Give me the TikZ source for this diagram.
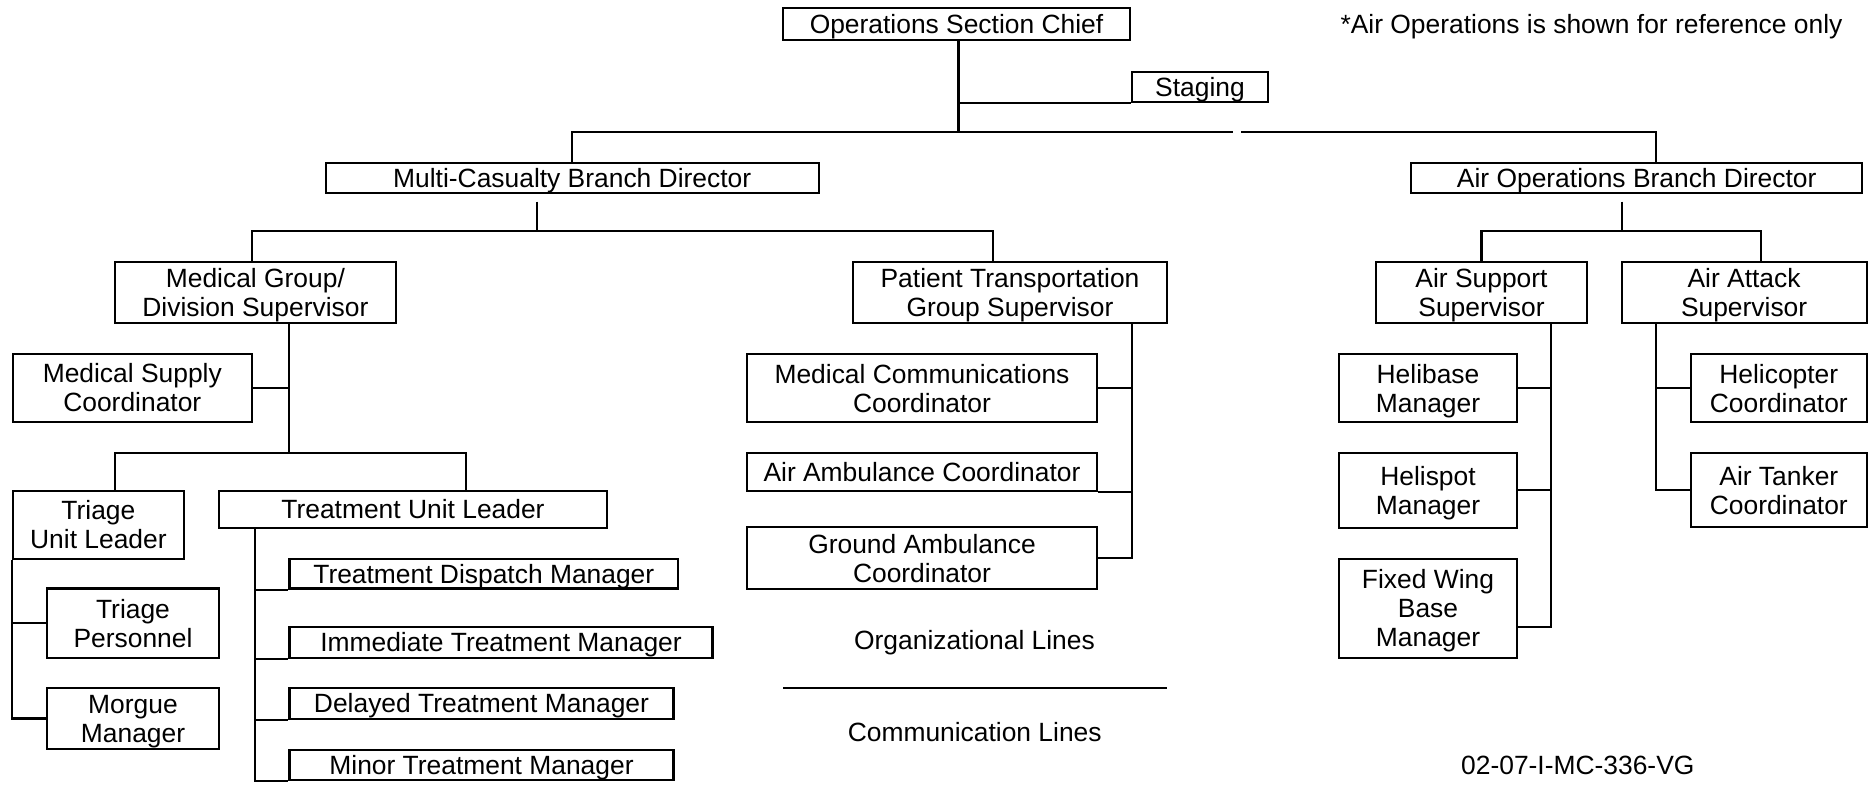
\documentclass[tikz,border=0pt]{standalone}
\usepackage{fontspec}
\setmainfont{Liberation Sans}
\usepackage{tikz}

\begin{document}
\begin{tikzpicture}[x=0.5pt,y=-0.5pt]

          \tikzstyle{boxNode} = [draw, line width=1.1pt, inner sep=0pt, text depth=0pt, align=center, font=\fontsize{13.2}{14.5}\selectfont];
          \tikzstyle{plainText} = [inner sep=0pt, font=\fontsize{13.2}{14.5}\selectfont];
          \tikzstyle{orgEdge} = [line width=1.1pt];

          \useasboundingbox (0,0) rectangle (1875,785);

          % top level
          \node[boxNode, minimum width=173.5pt, minimum height=15.85pt] (chief) at (956.5,24.2) {Operations Section Chief};
          \node[boxNode, minimum width=68pt, minimum height=15pt] (staging) at (1200,86.7) {Staging};
          \node[plainText] (note) at (1591.5,26.5) {*Air Operations is shown for reference only};

          \node[boxNode, minimum width=246.5pt, minimum height=15.3pt] (mcbd) at (572.2,178) {Multi-Casualty Branch Director};
          \node[boxNode, minimum width=225.35pt, minimum height=15.3pt] (aobd) at (1636.7,178) {Air Operations Branch Director};

          % groups
          \node[boxNode, minimum width=140.6pt, minimum height=30.5pt] (medgroup) at (255.4,292.2) {Medical Group/\\Division Supervisor};
          \node[boxNode, minimum width=157.3pt, minimum height=30.35pt] (ptgs) at (1010,292.3) {Patient Transportation\\Group Supervisor};
          \node[boxNode, minimum width=105.25pt, minimum height=30.35pt] (airsup) at (1481.5,292.3) {Air Support\\Supervisor};
          \node[boxNode, minimum width=122.5pt, minimum height=30.35pt] (airatk) at (1744.1,292.3) {Air Attack\\Supervisor};

          % medical group
          \node[boxNode, minimum width=119.4pt, minimum height=34.15pt] (medsup) at (132.3,387.9) {Medical Supply\\Coordinator};
          \node[boxNode, minimum width=85.6pt, minimum height=34.05pt] (triage) at (98.4,524.8) {Triage\\Unit Leader};
          \node[boxNode, minimum width=194.35pt, minimum height=18.5pt] (treatment) at (413,509.2) {Treatment Unit Leader};
          \node[boxNode, minimum width=86pt, minimum height=34.6pt] (triagepers) at (133,623.1) {Triage\\Personnel};
          \node[boxNode, minimum width=86pt, minimum height=30.8pt] (morgue) at (133,718.5) {Morgue\\Manager};
          \node[boxNode, minimum width=194.25pt, minimum height=14.75pt] (dispatch) at (483.8,573.8) {Treatment Dispatch Manager};
          \node[boxNode, minimum width=211.55pt, minimum height=15.35pt] (immediate) at (501,642.4) {Immediate Treatment Manager};
          \node[boxNode, minimum width=191.95pt, minimum height=15.35pt] (delayed) at (481.5,703.4) {Delayed Treatment Manager};
          \node[boxNode, minimum width=191.95pt, minimum height=15pt] (minor) at (481.5,765) {Minor Treatment Manager};

          % patient transportation
          \node[boxNode, minimum width=175.3pt, minimum height=34pt] (medcomm) at (922,388) {Medical Communications\\Coordinator};
          \node[boxNode, minimum width=175.3pt, minimum height=19pt] (airamb) at (922,471.7) {Air Ambulance Coordinator};
          \node[boxNode, minimum width=175.3pt, minimum height=30.85pt] (groundamb) at (922,558.2) {Ground Ambulance\\Coordinator};

          % air operations
          \node[boxNode, minimum width=89.05pt, minimum height=34pt] (helibase) at (1428,388) {Helibase\\Manager};
          \node[boxNode, minimum width=89.05pt, minimum height=37.5pt] (helispot) at (1428,490.2) {Helispot\\Manager};
          \node[boxNode, minimum width=89.05pt, minimum height=49.35pt] (fixedwing) at (1428,608.3) {Fixed Wing\\Base\\Manager};
          \node[boxNode, minimum width=87.8pt, minimum height=34pt] (helicopter) at (1778.8,388) {Helicopter\\Coordinator};
          \node[boxNode, minimum width=87.8pt, minimum height=37.15pt] (airtanker) at (1778.8,490.2) {Air Tanker\\Coordinator};

          % legend and id
          \node[plainText] (orglabel) at (974.5,642.5) {Organizational Lines};
          \node[plainText] (comlabel) at (974.7,732.5) {Communication Lines};
          \node[plainText] (docid) at (1577.8,765) {02-07-I-MC-336-VG};

          % junction points
          \coordinate (chiefBar) at (958.5,131.7);
          \coordinate (gapL) at (1233.3,131.7);
          \coordinate (gapR) at (1241,131.7);
          \coordinate (aobdIn) at (1655.7,162.7);
          \coordinate (mcbdOut) at (537,201.7);
          \coordinate (mcbdBar) at (537,230.7);
          \coordinate (mgIn) at (252,261.7);
          \coordinate (ptgsIn) at (992.7,262);
          \coordinate (aobdOut) at (1622,201.7);
          \coordinate (aobdBar) at (1622,230.7);
          \coordinate (airatkIn) at (1761,262);
          \coordinate (mgOut) at (288.7,322.7);
          \coordinate (mgBar) at (288.7,452.7);
          \coordinate (triIn) at (115,490.7);
          \coordinate (trtIn) at (466,490.7);
          \coordinate (trtOut) at (255,527.7);
          \coordinate (ptgsOut) at (1131.7,322.7);
          \coordinate (airsupOut) at (1550.8,322.7);
          \coordinate (fwOut) at (1517,626.7);
          \coordinate (airatkOut) at (1655.7,322.7);
          \coordinate (legL) at (783.3,687.7);
          \coordinate (legR) at (1166.7,687.7);

          \draw[orgEdge] (chief.south -| chiefBar) -- (chiefBar);
          \draw[orgEdge] (staging.south west -| chiefBar) -- (staging.south west);
          \draw[orgEdge] (mcbd.north) |- (gapL);
          \draw[orgEdge] (gapR) -| (aobdIn);

          \draw[orgEdge] (mcbdOut) -- (mcbdBar);
          \draw[orgEdge] (mgIn) -- (mgIn |- mcbdBar) -- (ptgsIn |- mcbdBar) -- (ptgsIn);
          \draw[orgEdge] (aobdOut) -- (aobdBar);
          \draw[orgEdge] (airsup.north) -- (airsup.north |- aobdBar) -- (airatkIn |- aobdBar) -- (airatkIn);

          \draw[orgEdge] (mgOut) -- (mgBar);
          \draw[orgEdge] (medsup.east) -- (medsup.east -| mgOut);
          \draw[orgEdge] (triIn) -- (triIn |- mgBar) -- (trtIn |- mgBar) -- (trtIn);

          \draw[orgEdge] (triage.south west) |- (morgue.west);
          \draw[orgEdge] (triagepers.west -| triage.south west) -- (triagepers.west);

          \draw[orgEdge] (trtOut) |- (minor.south west);
          \foreach \n in {dispatch, immediate, delayed}
            \draw[orgEdge] (trtOut |- \n.south west) -- (\n.south west);

          \draw[orgEdge] (ptgsOut) |- (groundamb.east);
          \draw[orgEdge] (medcomm.east) -- (medcomm.east -| ptgsOut);
          \draw[orgEdge] (airamb.south east) -- (airamb.south east -| ptgsOut);

          \draw[orgEdge] (airsupOut) |- (fwOut);
          \draw[orgEdge] (helibase.east) -- (helibase.east -| airsupOut);
          \draw[orgEdge] (helispot.east) -- (helispot.east -| airsupOut);

          \draw[orgEdge] (airatkOut) |- (airtanker.west);
          \draw[orgEdge] (helicopter.west) -- (helicopter.west -| airatkOut);

          \draw[orgEdge] (legL) -- (legR);
        \end{tikzpicture}
\end{document}
